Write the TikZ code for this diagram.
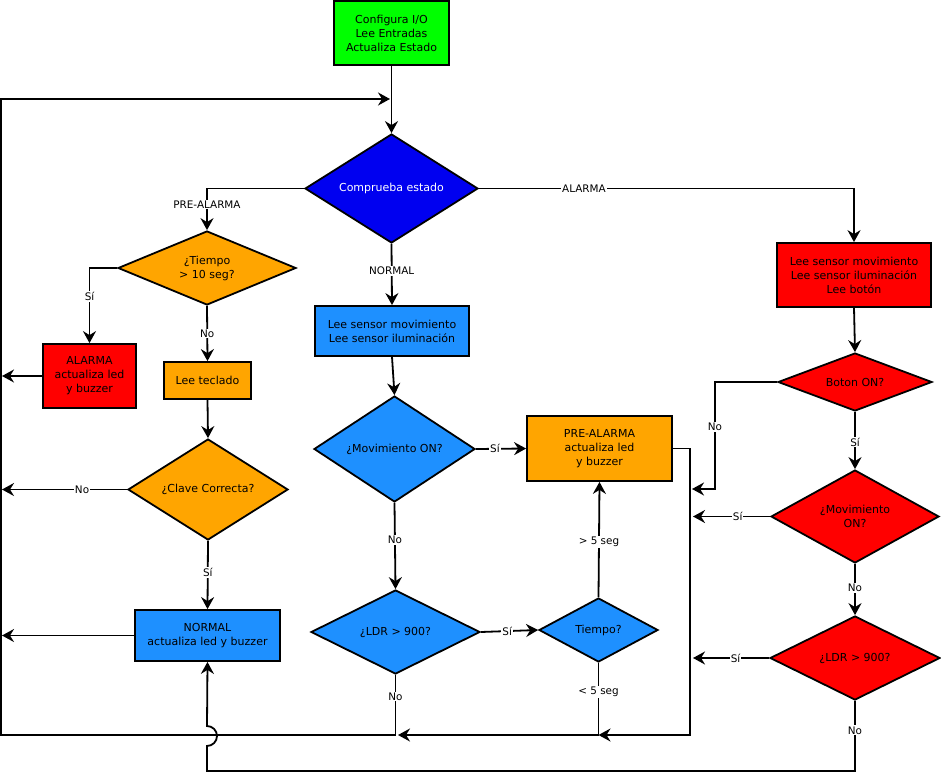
\documentclass[tikz,border=0pt]{standalone}
\usepackage{fontspec}
\setmainfont{DejaVu Sans}
\usetikzlibrary{shapes.geometric,arrows.meta}

\definecolor{cgreen}{RGB}{0,255,0}
\definecolor{cdeep}{RGB}{0,0,240}
\definecolor{clight}{RGB}{30,144,255}
\definecolor{corange}{RGB}{255,165,0}
\definecolor{cred}{RGB}{255,0,0}

\newcommand{\bxfont}{\fontsize{11}{14}\selectfont}
\newcommand{\lbfont}{\fontsize{10.4}{12}\selectfont}

\begin{document}
\begin{tikzpicture}[x=1pt,y=-1pt,
  box/.style={draw, line width=1.8pt, rectangle, inner sep=0pt, align=center, font=\bxfont},
  dia/.style={draw, line width=1.8pt, diamond, inner sep=0pt, align=center, font=\bxfont},
  line/.style={line width=1.8pt},
  conn/.style={line width=1.8pt, -{Stealth[length=12pt,width=13pt,inset=4pt]}},
  lbl/.style={fill=white, inner sep=1pt, font=\lbfont}]

\useasboundingbox (0,0) rectangle (941,773);

% ---- process boxes ----
\node[box, fill=cgreen, minimum width=115, minimum height=64] (start) at (391.5,33)
  {Configura I/O\\Lee Entradas\\Actualiza Estado};
\node[box, fill=cred, minimum width=154, minimum height=64] (rbox) at (854,275)
  {Lee sensor movimiento\\Lee sensor iluminación\\Lee botón};
\node[box, fill=cred, minimum width=93, minimum height=64] (alarm) at (89.5,376)
  {ALARMA\\actualiza led\\y buzzer};
\node[box, fill=corange, minimum width=87, minimum height=37] (lt) at (207.5,380.5)
  {Lee teclado};
\node[box, fill=clight, minimum width=145, minimum height=51] (normal) at (207.5,635.5)
  {NORMAL\\actualiza led y buzzer};
\node[box, fill=clight, minimum width=154, minimum height=50] (lsb) at (392,331)
  {Lee sensor movimiento\\Lee sensor iluminación};
\node[box, fill=corange, minimum width=145, minimum height=65] (pa) at (599.5,448.5)
  {PRE-ALARMA\\actualiza led\\y buzzer};

% ---- decisions ----
\node[dia, fill=cdeep, text=white, minimum width=173, minimum height=109, aspect=1.59] (comp) at (391.5,188.5)
  {Comprueba estado};
\node[dia, fill=corange, minimum width=178, minimum height=74, aspect=2.4] (t10) at (207,268)
  {¿Tiempo\\> 10 seg?};
\node[dia, fill=corange, minimum width=160, minimum height=101, aspect=1.58] (clave) at (208,489.5)
  {¿Clave Correcta?};
\node[dia, fill=clight, minimum width=161, minimum height=106, aspect=1.52] (movB) at (394.5,449)
  {¿Movimiento ON?};
\node[dia, fill=clight, minimum width=169, minimum height=84, aspect=2.0] (ldrB) at (395.5,632)
  {¿LDR > 900?};
\node[dia, fill=clight, minimum width=119, minimum height=64, aspect=1.86] (tm) at (598.5,630)
  {Tiempo?};
\node[dia, fill=cred, minimum width=154, minimum height=58, aspect=2.66] (boton) at (855,382)
  {Boton ON?};
\node[dia, fill=cred, minimum width=168, minimum height=93, aspect=1.8] (movR) at (855,516.5)
  {¿Movimiento\\ON?};
\node[dia, fill=cred, minimum width=170, minimum height=84, aspect=2.02] (ldrR) at (855,658)
  {¿LDR > 900?};

% ---- junctions and free ends ----
\coordinate (eAl) at (2,376);
\coordinate (eCl) at (2,489.5);
\coordinate (eNo) at (2,635.5);
\coordinate (jB) at (395.5,735);
\coordinate (jBa) at (398,735);
\coordinate (j5) at (598.5,735);
\coordinate (rc) at (690,735);
\coordinate (lc) at (1,99);
\coordinate (jTop) at (390,99);
\coordinate (nb) at (715,489);
\coordinate (nbe) at (692,489);
\coordinate (eMR) at (693,516.5);
\coordinate (eLR) at (693,658);
\coordinate (jn1) at (207,771);
\coordinate (jn2) at (207,746);

% ---- connectors ----
\draw[conn] (start.south) -- (comp.north);
\draw[conn] (comp.west) -| node[lbl, pos=.69] {PRE-ALARMA} (t10.north);
\draw[conn] (comp.east) -| node[lbl, pos=.14] {ALARMA} (rbox.north);
\draw[conn] (comp.south) -- node[lbl, pos=.44] {NORMAL} (lsb.north);

\draw[conn] (t10.west) -| node[lbl, pos=.69] {Sí} (alarm.north);
\draw[conn] (t10.south) -- node[lbl, pos=.5] {No} (lt.north);
\draw[conn] (alarm.west) -- (eAl);
\draw[conn] (lt.south) -- (clave.north);
\draw[conn] (clave.west) -- node[lbl, pos=.36] {No} (eCl);
\draw[conn] (clave.south) -- node[lbl, pos=.46] {Sí} (normal.north);
\draw[conn] (normal.west) -- (eNo);

\draw[conn] (lsb.south) -- (movB.north);
\draw[conn] (movB.east) -- node[lbl, pos=.38] {Sí} (pa.west);
\draw[conn] (movB.south) -- node[lbl, pos=.43] {No} (ldrB.north);
\draw[conn] (ldrB.east) -- node[lbl, pos=.46] {Sí} (tm.west);
\draw[line] (ldrB.south) -- node[lbl, pos=.36] {No} (jB);
\draw[conn] (tm.north) -- node[lbl, pos=.48] {> 5 seg} (pa.south);
\draw[line] (tm.south) -- node[lbl, pos=.4] {< 5 seg} (j5);
\draw[conn] (pa.east) -| (rc) -- (j5);
\draw[conn] (j5) -- (jBa);
\draw[conn] (jB) -| (lc) -- (jTop);

\draw[conn] (rbox.south) -- (boton.north);
\draw[conn] (boton.west) -| node[lbl, pos=.71] {No} (nb) -- (nbe);
\draw[conn] (boton.south) -- node[lbl, pos=.53] {Sí} (movR.north);
\draw[conn] (movR.west) -- node[lbl, pos=.42] {Sí} (eMR);
\draw[conn] (movR.south) -- node[lbl, pos=.47] {No} (ldrR.north);
\draw[conn] (ldrR.west) -- node[lbl, pos=.44] {Sí} (eLR);
\draw[conn] (ldrR.south) |- node[lbl, pos=.21] {No} (jn1) -- (jn2)
  arc[start angle=-90, end angle=90, radius=10pt] -- (normal.south);

\end{tikzpicture}
\end{document}
